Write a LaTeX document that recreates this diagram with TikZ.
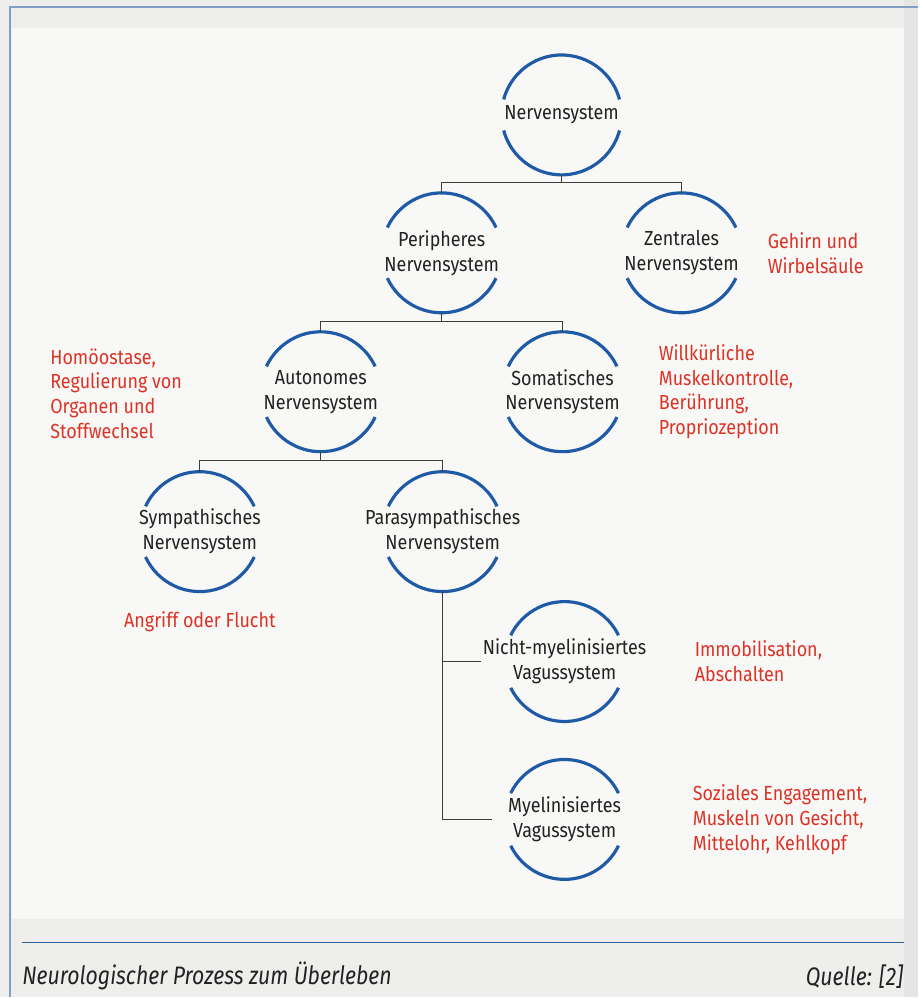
\documentclass[tikz,border=0pt]{standalone}
\usepackage{fontspec}
\usepackage{xcolor}
\usepackage{tikz}
\usetikzlibrary{positioning}
\setmainfont{Fira Sans}[FakeStretch=0.88]
\newfontfamily\capfont{Fira Sans}[FakeStretch=0.84]
\newcommand{\bodyfont}{\fontsize{11.6}{14.2}\selectfont}
\definecolor{ringblue}{HTML}{1F5AA6}
\definecolor{alert}{HTML}{DC3326}
\definecolor{ink}{HTML}{222222}
\definecolor{linkgray}{HTML}{3C3C3C}
\definecolor{paper}{HTML}{EEEEEC}
\definecolor{panel}{HTML}{F8F8F6}
\definecolor{rule}{HTML}{2B5F9E}

\begin{document}
\begin{tikzpicture}[
    x=0.02cm, y=-0.02cm,
    hub/.style={circle, minimum size=2.4cm, inner sep=0pt, outer sep=0pt},
    tag/.style={font=\bodyfont, text=ink, align=center, inner sep=1pt},
    note/.style={font=\bodyfont, text=alert, align=left, inner sep=0pt},
    ring/.style={draw=ringblue, line width=1.8pt},
    link/.style={draw=linkgray, line width=0.7pt}
]
    % Page
    \fill[paper] (0,0) rectangle (919,998);
    \fill[panel] (12,28) rectangle (905,920);
    \fill[black!10] (905,0) rectangle (919,998);
    \draw[rule!60, line width=0.8pt] (10,998) -- (10,7) -- (919,7);
    \useasboundingbox (0,0) rectangle (919,998);

    % Circles
    \node (ns) [hub, label={[tag, name=ns-t]center:Nervensystem}] at (562,115) {};
    \node (pns) [hub, label={[tag, name=pns-t]center:{Peripheres\\Nervensystem}}] at (442,253) {};
    \node (zns) [hub, label={[tag, name=zns-t]center:{Zentrales\\Nervensystem}}] at (682,253) {};
    \node (ans) [hub, label={[tag, name=ans-t]center:{Autonomes\\Nervensystem}}] at (321,392) {};
    \node (sns) [hub, label={[tag, name=sns-t]center:{Somatisches\\Nervensystem}}] at (563,392) {};
    \node (sym) [hub, label={[tag, name=sym-t]center:{Sympathisches\\Nervensystem}}] at (200,532) {};
    \node (para) [hub, label={[tag, name=para-t]center:{Parasympathisches\\Nervensystem}}] at (443,532) {};
    \node (nmv) [hub, label={[tag, name=nmv-t]center:{Nicht-myelinisiertes\\Vagussystem}}] at (565,662) {};
    \node (mv) [hub, label={[tag, name=mv-t]center:{Myelinisiertes\\Vagussystem}}] at (565,820) {};

    % Open rings
    \foreach \n/\g in {ns/15, pns/25, zns/25, ans/25, sns/25, sym/25, para/25, nmv/26, mv/26} {
        \draw[ring] (\n.\g) arc[start angle=\g, end angle=180-\g, radius=1.2cm];
        \draw[ring] (\n.-\g) arc[start angle=-\g, end angle=\g-180, radius=1.2cm];
    }

    % Notes
    \node (gws) [note, right=0.52cm of zns] {Gehirn und\\Wirbelsäule};
    \node (wmk) [note, right=0.72cm of sns] {Willkürliche\\Muskelkontrolle,\\Berührung,\\Propriozeption};
    \node (hro) [note, anchor=west] at (50,394) {Homöostase,\\Regulierung von\\Organen und\\Stoffwechsel};
    \node (aof) [note, below=0.4cm of sym] {Angriff oder Flucht};
    \node (ima) [note, right=1.4cm of nmv] {Immobilisation,\\Abschalten};
    \node (sem) [note, right=1.36cm of mv] {Soziales Engagement,\\Muskeln von Gesicht,\\Mittelohr, Kehlkopf};

    % Tree lines
    \draw[link] (ns.south) -- ++(0,8) -| (pns.north);
    \draw[link] (ns.south) -- ++(0,8) -| (zns.north);
    \draw[link] (pns.south) -- ++(0,9) -| (ans.north);
    \draw[link] (pns.south) -- ++(0,9) -| (sns.north);
    \draw[link] (ans.south) -- ++(0,9) -| (sym.north);
    \draw[link] (ans.south) -- ++(0,9) -| (para.north);
    \draw[link] (para.south) |- (nmv-t.west);
    \draw[link, shorten >=8pt] (para.south) |- (mv-t.west);

    % Footer
    \coordinate (rl) at (22,943);
    \coordinate (rr) at (905,943);
    \draw[rule, line width=0.9pt] (rl) -- (rr);
    \node (cap) [anchor=west, inner sep=0pt, text=ink, font=\capfont\itshape\fontsize{14.4}{16}\selectfont] at (22,977) {Neurologischer Prozess zum Überleben};
    \node (src) [anchor=east, inner sep=0pt, text=ink, font=\capfont\itshape\fontsize{14.4}{16}\selectfont] at (904,977) {Quelle: [2]};
\end{tikzpicture}
\end{document}
